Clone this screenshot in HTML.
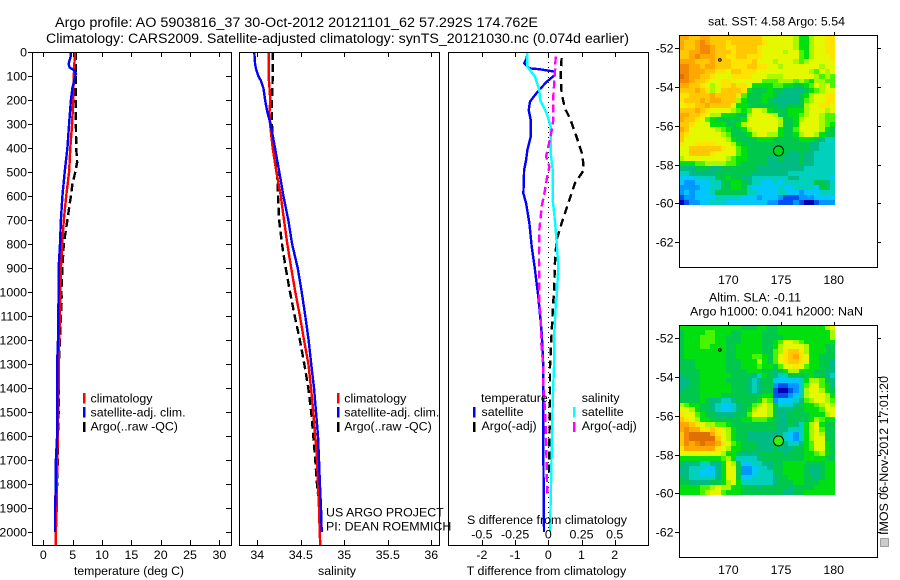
<!DOCTYPE html>
<html>
<head>
<meta charset="utf-8">
<title>Argo profile</title>
<style>
html,body{margin:0;padding:0;background:#fff;width:900px;height:580px;overflow:hidden}
svg{display:block}
text{font-family:"Liberation Sans",sans-serif;font-size:12.4px;fill:#000}
.frame{fill:none;stroke:#000;stroke-width:1;shape-rendering:crispEdges}
.tick{stroke:#000;stroke-width:1;shape-rendering:crispEdges}
.bar{shape-rendering:crispEdges}
.ttl{font-size:13.4px}
</style>
</head>
<body>
<svg id="chart" width="900" height="580" viewBox="0 0 900 580" xmlns="http://www.w3.org/2000/svg">
  <rect x="0" y="0" width="900" height="580" fill="#fff"/>
  <text class="ttl" x="55" y="27" textLength="483" lengthAdjust="spacingAndGlyphs">Argo profile: AO 5903816_37 30-Oct-2012 20121101_62 57.292S 174.762E</text>
  <text class="ttl" x="46" y="43" textLength="583" lengthAdjust="spacingAndGlyphs">Climatology: CARS2009. Satellite-adjusted climatology: synTS_20121030.nc (0.074d earlier)</text>

  <g id="tempPanel"></g>
  <g id="salPanel"></g>
  <g id="diffPanel"></g>
  <g id="sstMap"></g>
  <g id="slaMap"></g>

  <text x="74" y="575" textLength="110" lengthAdjust="spacingAndGlyphs">temperature (deg C)</text>
  <text x="318" y="575" textLength="38" lengthAdjust="spacingAndGlyphs">salinity</text>
  <text x="466.7" y="575" textLength="159.5" lengthAdjust="spacingAndGlyphs">T difference from climatology</text>
  <text x="467" y="524" textLength="160" lengthAdjust="spacingAndGlyphs">S difference from climatology</text>

  <g>
    <rect class="bar" x="83" y="393" width="2.5" height="10.5" fill="#f00"/>
    <rect class="bar" x="83" y="407" width="2.5" height="10.5" fill="#00f"/>
    <rect class="bar" x="83" y="422" width="2.5" height="10" fill="#000"/>
    <text x="90.5" y="402.7">climatology</text>
    <text x="90.5" y="416.7">satellite-adj. clim.</text>
    <text x="90.5" y="430.7">Argo(..raw -QC)</text>
  </g>
  <g>
    <rect class="bar" x="337" y="393" width="2.5" height="10.5" fill="#f00"/>
    <rect class="bar" x="337" y="407" width="2.5" height="10.5" fill="#00f"/>
    <rect class="bar" x="337" y="422" width="2.5" height="10" fill="#000"/>
    <text x="344.3" y="402.7">climatology</text>
    <text x="344.3" y="416.7">satellite-adj. clim.</text>
    <text x="344.3" y="430.7">Argo(..raw -QC)</text>
  </g>
  <g>
    <text x="326" y="516.7">US ARGO PROJECT</text>
    <text x="326" y="530.7">PI: DEAN ROEMMICH</text>
  </g>
  <g>
    <text x="481" y="402">temperature</text>
    <rect class="bar" x="473" y="407" width="2.5" height="10.5" fill="#00f"/>
    <rect class="bar" x="473" y="422" width="2.5" height="10" fill="#000"/>
    <text x="481.5" y="416">satellite</text>
    <text x="481.5" y="430">Argo(-adj)</text>
    <text x="581.7" y="402">salinity</text>
    <rect class="bar" x="573" y="407" width="2.5" height="10.5" fill="#0ff"/>
    <rect class="bar" x="573" y="422" width="2.5" height="10" fill="#f0f"/>
    <text x="581.7" y="416">satellite</text>
    <text x="581.7" y="430">Argo(-adj)</text>
  </g>

  <text x="708" y="25.7" textLength="137" lengthAdjust="spacingAndGlyphs">sat. SST: 4.58 Argo: 5.54</text>
  <text x="709" y="301.7" textLength="92" lengthAdjust="spacingAndGlyphs">Altim. SLA: -0.11</text>
  <text x="690" y="315.7" textLength="173" lengthAdjust="spacingAndGlyphs">Argo h1000: 0.041 h2000: NaN</text>

  <text transform="translate(888,535) rotate(-90)" textLength="159" lengthAdjust="spacingAndGlyphs">IMOS 06-Nov-2012 17:01:20</text>
  <rect x="880.5" y="538.5" width="8" height="8" fill="#ccc" stroke="#555" stroke-dasharray="1,1" class="bar"/>
</svg>
<script>
// ---- depth axis ----
const depthTicks = [0,100,200,300,400,500,600,700,800,900,1000,1100,1200,1300,1400,1500,1600,1700,1800,1900,2000];

// ---- temperature panel ----
const tempTicks = [0,5,10,15,20,25,30];
const tempClimDepth = [0,100,200,300,400,500,600,700,800,900,1000,1100,1200,1300,1400,1500,1600,1700,1800,1900,2000,2057];
const tempClimValue = [5.4,5.2,5.1,4.9,4.6,4.4,3.9,3.5,3.2,3.0,2.9,2.85,2.7,2.65,2.6,2.5,2.45,2.4,2.3,2.28,2.15,2.15];
const tempSatDepth = [0,20,50,65,75,90,100,150,200,250,300,400,500,600,700,800,900,1000,1100,1200,1300,1400,1500,1600,1700,1800,1900,2000];
const tempSatValue = [4.7,4.65,4.3,4.5,5.2,5.55,5.45,4.95,4.7,4.55,4.4,4.1,3.65,3.25,3.0,2.85,2.6,2.6,2.55,2.5,2.35,2.4,2.35,2.35,2.15,2.15,2.0,2.0];
const tempArgoDepth = [0,100,200,300,400,460,500,550,600,650,700,750,800,900,1000,1030,1100,1200,1300,1400,1500,1600,1700,1800,1850];
const tempArgoValue = [5.55,5.5,5.55,5.55,5.6,5.75,5.45,4.95,4.7,4.4,4.1,3.8,3.5,3.25,3.07,3.15,3.0,2.85,2.68,2.6,2.6,2.5,2.45,2.35,2.3];

// ---- salinity panel ----
const salTicks = [34,34.5,35,35.5,36];
const salClimDepth = [0,100,150,200,250,300,400,500,600,700,800,900,1000,1100,1200,1300,1400,1500,1600,1700,1800,1900,2000,2057];
const salClimValue = [34.13,34.13,34.14,34.15,34.14,34.146,34.177,34.22,34.27,34.307,34.345,34.39,34.437,34.49,34.537,34.587,34.617,34.644,34.667,34.686,34.698,34.709,34.717,34.724];
const salSatDepth = [0,50,70,100,120,150,200,250,300,400,500,600,700,800,900,1000,1100,1200,1300,1400,1500,1600,1700,1800,1900,2000];
const salSatValue = [33.966,33.975,33.985,34.012,34.043,34.07,34.09,34.115,34.154,34.203,34.253,34.3,34.356,34.4,34.464,34.51,34.552,34.59,34.62,34.652,34.675,34.698,34.709,34.72,34.732,34.74];
const salArgoDepth = [0,100,200,300,400,450,500,600,700,800,900,1000,1100,1200,1300,1400,1500,1600,1700,1800,1850];
const salArgoValue = [34.177,34.177,34.169,34.169,34.177,34.2,34.226,34.238,34.25,34.284,34.326,34.376,34.43,34.49,34.54,34.586,34.62,34.644,34.667,34.686,34.7];

// ---- difference panel ----
const tDiffTicks = [-2,-1,0,1,2];
const sDiffTicks = [-0.5,-0.25,0,0.25,0.5];
const sDiffTickLabels = ['-0.5','-0.25','0','0.25','0.5'];
const tDiffSatDepth = [0,26,47,68,72,82,96,124,158,179,207,242,283,353,408,450,492,589,631,714,811,908,1019,1172,1311,1450,1644,2000];
const tDiffSatValue = [-0.63,-0.65,-0.73,-0.57,-0.25,0.2,0.2,-0.05,-0.27,-0.4,-0.55,-0.59,-0.53,-0.53,-0.63,-0.67,-0.73,-0.75,-0.67,-0.57,-0.5,-0.4,-0.3,-0.2,-0.15,-0.15,-0.15,-0.13];
const tDiffArgoDepth = [26,89,172,235,276,353,429,492,547,631,714,783,881,1019,1033,1172,1311,1450,1644,1756];
const tDiffArgoValue = [0.4,0.37,0.4,0.5,0.65,0.85,1.03,1.07,0.8,0.6,0.4,0.25,0.2,0.17,0.15,0.1,0.05,0.05,0.03,0.03];
const sDiffSatDepth = [0,61,103,158,200,256,311,422,492,617,700,797,894,1019,1033,1172,1311,1450,1644,2000];
const sDiffSatValue = [-0.158,-0.158,-0.1,-0.068,-0.062,-0.012,0.018,0.018,0.033,0.033,0.05,0.063,0.075,0.063,0.058,0.045,0.043,0.033,0.026,0.013];
const sDiffArgoDepth = [19,89,186,283,325,394,436,478,519,575,644,742,853,964,1033,1117,1214,1311,1394,1506,1617,1714,1839];
const sDiffArgoValue = [0.056,0.05,0.038,0.038,0.026,0,-0.017,0.008,-0.008,-0.025,-0.05,-0.068,-0.07,-0.068,-0.068,-0.057,-0.053,-0.038,-0.038,-0.023,-0.017,-0.012,-0.008];

// ---- maps ----
const lonTicks = [170,175,180];
const latTicks = [-52,-54,-56,-58,-60,-62];
const floatLon = 174.762;
const floatLat = -57.292;
const otherFloatLon = 169.2;
const otherFloatLat = -52.6;
const levelKeys = 'abcdefghijklmnop';
const levelColors = ['#0000b0','#0050f0','#0098ff','#00c8ff','#00d0bc','#00bc84','#00c84c','#00e010','#48f400','#a8f800','#e4f800','#ffe400','#ffc800','#ffa800','#f48800','#e07000'];
const sstLevelRows = [
'nnmmnnmmmmmmmmmmkkkkkkjhhjkkll',
'nmmnonmmmlmmmmmmlkkkkkjhhjkkll',
'nmmnoonmmllmmmmlkkkkkkjhhjkkll',
'mmnnoonmmmlmmmmlkkkkjkkihjkkll',
'mmnonnnmmllmmlllkkkkkkkihjkkkl',
'nnnmmmnmmmllllmkkkjkkkjijkkkkk',
'oonnmnnmmmlllmmllkkjkkkkkkkjkk',
'oonnnmmllkmmlllkkkkkkkkkkjikjk',
'ponnmmlkkkllllkkkjjjkkkkkkjiji',
'oonmmlkkllkkkkkkiiijjjijihjjii',
'nnmmlkjkllmllkhhhhiihhgghikjki',
'mmmnmljkmmmmlhggghggffffghijkk',
'llmmmmnmmmmliggghhgffffghjkkll',
'lmmmnmnnmmmjhggghgfffffgijkkll',
'kllmmnmmmmkhhggggggffgggjkkllk',
'mmmnmlkkkkjihikkjhggghhhjkkkjk',
'nnmmlkjjhhhggjkkkkjgghhijkkjii',
'nmmlkihggggghkkkkkkjgghjkkkjii',
'mmlkkkhhhgghjkkkkkkjgghkkkkjih',
'nmkkkkkjihgghjkkkkkhggikkkkjhg',
'mlkkkkkkjiggghjkkjjhgghjkkjhgg',
'mkkkkkkkkjhgggghhhggggghhhgfee',
'lkkllllkkkjhgggggggggggggffeee',
'kkmmmmmmlkkihggggggggggggffeee',
'kkmmmmlkkkkihggggggggffgffeeee',
'jkkkkkkkkjihhggggffgfffgffeeee',
'hhhiijjjjiihgggggffffffgffeeee',
'fffgggffgggggggfffffffffeeeeee',
'eefffffgggggggfffffffeeeeeeeee',
'dddeeeegghggffeeeeeeeffeeeeeed',
'dccdddeegghhgfeeddedeeeeeeggfe',
'ccccddeegghhgedddddeddeeeedgge',
'cdcdddeggggggeeddddeeddcdddeee',
'bccddddeeeeedddcdddcbbbcccdddd',
'abccddeeeddddddddccbbbcbaabccc'
];
const slaLevelRows = [
'hhhhhhhhhhhhggghhgghhhhhhhhhjk',
'ghhhhiihhhgghhhhggghhhhhhhhhhj',
'ghhhiiihhggghhhhgggghhhhhhhhhj',
'ghhhiiihhggghhhhgghikkjihhhhhh',
'ghhhiihhhgghhhhhgghjkkkkjhhhgg',
'ghhhhhhhhgghhhhhggijlmmljhhhgg',
'ghhhhhhhhgghhhiihgiklmnlkhhggg',
'ggghhhhhhggghhhjhgiklmmlkhhggf',
'ggghhhhhhggghhhihhgikklkihhggf',
'gggghhhhhgggghhhggfghjjhhhggff',
'fggghhhhhhggggfehgfeegggghggfe',
'ffgghhhhhggggfefggdddddehjjigf',
'ffgghhhhhhgggfefggcbbcceikkihf',
'fggghhhhhhgggfefggbaabcejkkjhg',
'gggghhhhgggggggghhbbbcdejkkkjh',
'gggghgffeefgggghjicdddefijkkji',
'jihhggfeddefggijkjgeeefghhijkj',
'kkjhggfeddefghjkkjgfffgghhhikk',
'lkkihggffffggikkkjgffgggghhhjk',
'mlkjhhgggggghhiiihgffgggghjihh',
'nnmlkjjiihgggggggggffgfehjkhgg',
'nonnllmlkjhggggggggffeeehjkigg',
'moppppnlkjhggfffffffedcehjkjgg',
'mopppppmkjhggfffffffedcehjkkgg',
'monopoonlkihgggfffggfeefhikkhg',
'lnnnnnnlkjhhgggfffgfffgghikkhg',
'kkkkkkkkjhhgfffgggggfggghhijhg',
'hhhhhhhhijheeeefgggggggghhhhgg',
'gfffeeffhkjgddeeffgghhhhgggghh',
'ffeeeddfhkkgccdeefgghhhhgffghh',
'ffeedddfhkkgccdeeegghhhhgffghh',
'gfeeeeefhkkgddeeeefgghhhggfghh',
'ggffffgghjkheeeeeefggghhggghhh',
'hhhhiijkjjhhgggfgggggfgggghhhh',
'hhhhijkkihhhggggggggffgghhhhhh'
];

// ---- helpers ----
const NS = 'http://www.w3.org/2000/svg';
function el(parent, tag, attrs, name) {
  const e = document.createElementNS(NS, tag);
  for (const k in attrs) e.setAttribute(k, attrs[k]);
  
  
  parent.appendChild(e);
  return e;
}
function txt(parent, x, y, s, anchor, name) {
  const t = el(parent, 'text', {x: x, y: y, 'text-anchor': anchor}, name);
  t.textContent = s;
  return t;
}
const depthY = d => 52 + d * 0.24;
const PANEL_TOP = 52, PANEL_BOTTOM = 545;
const tempX = v => 43.3 + v * 5.87;
const salX = v => 257.3 + (v - 34) * 87;
const tDiffX = v => 548.3 + v * 33.2;
const sDiffX = v => 548.3 + v * 132.8;

function series(parent, xs, depths, values, color, dash, name) {
  const pts = values.map((v, i) => xs(v).toFixed(1) + ',' + depthY(depths[i]).toFixed(1)).join(' ');
  const attrs = {points: pts, fill: 'none', stroke: color, 'stroke-width': 2.4, 'shape-rendering': 'crispEdges'};
  if (dash) attrs['stroke-dasharray'] = dash;
  el(parent, 'polyline', attrs, name);
}
function frame(parent, x0, x1) {
  el(parent, 'rect', {class: 'frame', x: x0 + 0.5, y: PANEL_TOP + 0.5, width: x1 - x0, height: PANEL_BOTTOM - PANEL_TOP}, 'panel-frame');
}
function xTicks(parent, ticks, xs) {
  ticks.forEach(v => {
    const x = Math.round(xs(v)) + 0.5;
    el(parent, 'line', {class: 'tick', x1: x, x2: x, y1: PANEL_TOP, y2: PANEL_TOP + 5}, 'x-tick-top');
    el(parent, 'line', {class: 'tick', x1: x, x2: x, y1: PANEL_BOTTOM, y2: PANEL_BOTTOM - 5}, 'x-tick-bottom');
  });
}

// ---- temperature ----
const tp = document.getElementById('tempPanel');
series(tp, tempX, tempArgoDepth, tempArgoValue, '#000', '8,4', 'temperature-argo-line');
series(tp, tempX, tempClimDepth, tempClimValue, '#f00', null, 'temperature-climatology-line');
series(tp, tempX, tempSatDepth, tempSatValue, '#00f', null, 'temperature-satellite-line');
frame(tp, 32, 231);
xTicks(tp, tempTicks, tempX);
tempTicks.forEach(v => {
  txt(tp, tempX(v), 559, String(v), 'middle', 'temperature-tick-label');
});
depthTicks.forEach(d => {
  const y = Math.round(depthY(d)) + 0.5;
  el(tp, 'line', {class: 'tick', x1: 28, x2: 32, y1: y, y2: y}, 'depth-tick-left');
  el(tp, 'line', {class: 'tick', x1: 231, x2: 226, y1: y, y2: y}, 'depth-tick-right');
  txt(tp, 27, y + 4, String(d), 'end', 'depth-tick-label');
});

// ---- salinity ----
const sp = document.getElementById('salPanel');
series(sp, salX, salArgoDepth, salArgoValue, '#000', '8,4', 'salinity-argo-line');
series(sp, salX, salClimDepth, salClimValue, '#f00', null, 'salinity-climatology-line');
series(sp, salX, salSatDepth, salSatValue, '#00f', null, 'salinity-satellite-line');
frame(sp, 239, 439);
xTicks(sp, salTicks, salX);
salTicks.forEach(v => {
  txt(sp, salX(v), 559, String(v), 'middle', 'salinity-tick-label');
});

// ---- differences ----
const dp = document.getElementById('diffPanel');
el(dp, 'line', {x1: 548.5, x2: 548.5, y1: depthY(0), y2: depthY(2000), stroke: '#000', 'stroke-width': 1, 'stroke-dasharray': '1,4', 'shape-rendering': 'crispEdges'}, 'zero-reference-line');
series(dp, tDiffX, tDiffSatDepth, tDiffSatValue, '#00f', null, 't-difference-satellite-line');
series(dp, tDiffX, tDiffArgoDepth, tDiffArgoValue, '#000', '8,5', 't-difference-argo-line');
series(dp, sDiffX, sDiffSatDepth, sDiffSatValue, '#0ff', null, 's-difference-satellite-line');
series(dp, sDiffX, sDiffArgoDepth, sDiffArgoValue, '#f0f', '8,4', 's-difference-argo-line');
frame(dp, 448, 648);
xTicks(dp, tDiffTicks, tDiffX);
tDiffTicks.forEach(v => {
  txt(dp, tDiffX(v), 559, String(v), 'middle', 't-difference-tick-label');
});
sDiffTicks.forEach((v, i) => {
  txt(dp, sDiffX(v), 538.7, sDiffTickLabels[i], 'middle', 's-difference-tick-label');
});

// ---- maps ----
const lonX = lon => 728.3 + (lon - 170) * 10.54;
function drawMap(group, rows, top, lat52Y, labelY, dotColor, cellName) {
  const latY = lat => lat52Y + (-52 - lat) * 19.38;
  const lonStart = 165.33, lonStep = 14.8 / 30;
  const latStart = -52 + (lat52Y - top) / 19.38, latStep = 0.25;
  rows.forEach((row, r) => {
    for (let c = 0; c < row.length; c++) {
      const x0 = Math.round(lonX(lonStart + c * lonStep));
      const x1 = Math.round(lonX(lonStart + (c + 1) * lonStep));
      const y0 = Math.round(latY(latStart - r * latStep));
      const y1 = Math.round(latY(latStart - (r + 1) * latStep));
      el(group, 'rect', {x: x0, y: y0, width: x1 - x0, height: y1 - y0, fill: levelColors[levelKeys.indexOf(row[c])], 'shape-rendering': 'crispEdges'}, cellName);
    }
  });
  el(group, 'rect', {class: 'frame', x: 679.5, y: top + 0.5, width: 198, height: 232}, 'map-frame');
  lonTicks.forEach(lon => {
    const x = Math.round(lonX(lon)) + 0.5;
    el(group, 'line', {class: 'tick', x1: x, x2: x, y1: top - 3, y2: top}, 'longitude-tick');
    txt(group, lonX(lon), labelY, String(lon), 'middle', 'longitude-tick-label');
  });
  latTicks.forEach(lat => {
    const y = Math.round(latY(lat)) + 0.5;
    el(group, 'line', {class: 'tick', x1: 675, x2: 679, y1: y, y2: y}, 'latitude-tick-left');
    el(group, 'line', {class: 'tick', x1: 878, x2: 881, y1: y, y2: y}, 'latitude-tick-right');
    txt(group, 673.5, y + 4, String(lat), 'end', 'latitude-tick-label');
  });
  el(group, 'circle', {cx: lonX(otherFloatLon), cy: latY(otherFloatLat), r: 1.3, fill: 'none', stroke: '#000', 'stroke-width': 1}, 'nearby-float-marker');
  el(group, 'circle', {cx: lonX(floatLon), cy: latY(floatLat), r: 5, fill: dotColor, stroke: '#000', 'stroke-width': 1}, 'argo-float-marker');
}
drawMap(document.getElementById('sstMap'), sstLevelRows, 35, 48.3, 284, '#00d81c', 'sst-heatmap-cell');
drawMap(document.getElementById('slaMap'), slaLevelRows, 325, 338.3, 574, '#3cf000', 'sla-heatmap-cell');
</script>
</body>
</html>
